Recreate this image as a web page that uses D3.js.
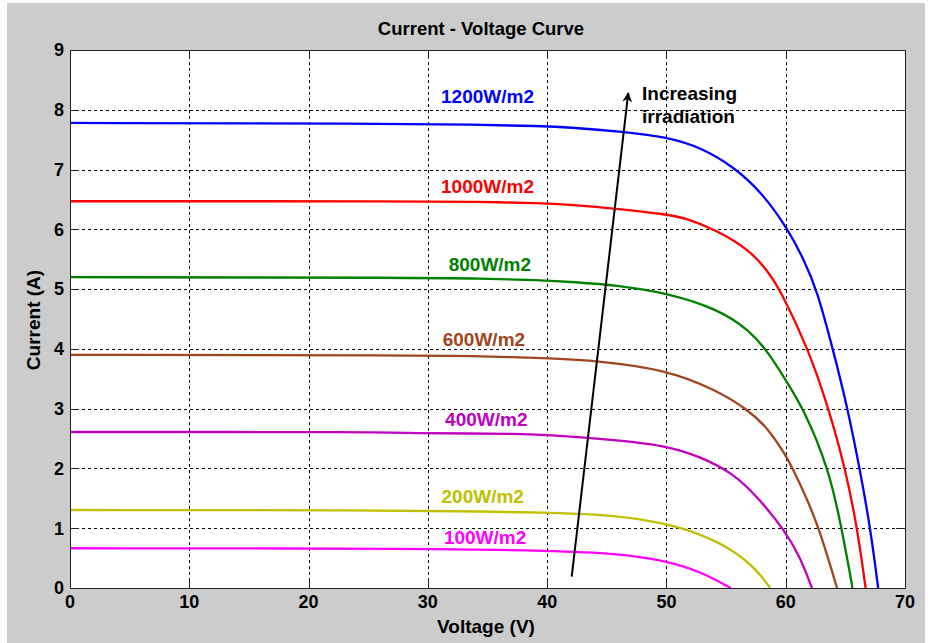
<!DOCTYPE html>
<html>
<head>
<meta charset="utf-8">
<script src="https://cdn.jsdelivr.net/npm/d3@7"></script>
<style>
  html, body { margin: 0; padding: 0; background: #fff; }
  text { font-family: Arial, "Liberation Sans", sans-serif; font-weight: bold; }
</style>
</head>
<body>
<svg id="chart" width="928" height="643"></svg>
<script>
'use strict';

// I-V curves: [voltage (V), current (A)]
var curve1200 = [[0, 7.78], [26, 7.77], [34, 7.75], [39.4, 7.73], [42.2, 7.70], [46, 7.64], [50, 7.55], [53, 7.36],
    [55.6, 7.05], [58, 6.62], [60.2, 6.0], [61.5, 5.5], [62.6, 5.0], [63.95, 4.0], [65.2, 3.0], [66.2, 2.0],
    [67.1, 1.0], [67.75, 0]];
var curve1000 = [[0, 6.47], [30, 6.47], [34, 6.46], [39.4, 6.44], [42, 6.41], [46, 6.34], [50, 6.25], [51.4, 6.2],
    [54.2, 5.99], [57, 5.65], [58.5, 5.3], [59.5, 5.0], [61.9, 4.0], [63.6, 3.0], [65.0, 2.0],
    [66.0, 1.0], [66.7, 0]];
var curve800 = [[0, 5.20], [30, 5.19], [34, 5.18], [39.4, 5.15], [42.2, 5.12], [46, 5.06], [49.9, 4.94], [54.2, 4.68],
    [57, 4.31], [58.5, 3.95], [59.9, 3.51], [61.5, 3.0], [63.6, 2.0], [64.7, 1.0], [65.6, 0]];
var curve600 = [[0, 3.90], [30, 3.89], [34, 3.88], [40.8, 3.84], [44.1, 3.80], [49.9, 3.66], [54.2, 3.31],
    [56.7, 3.0], [58.5, 2.68], [59.9, 2.25], [60.6, 2.0], [61.75, 1.5], [62.8, 1.0], [64.3, 0]];
var curve400 = [[0, 2.61], [26, 2.61], [28.5, 2.59], [38, 2.58], [40.8, 2.55], [45, 2.49], [49.9, 2.39],
    [52.8, 2.20], [55.6, 1.92], [57.6, 1.53], [59.9, 0.97], [61.2, 0.52], [62.2, 0]];
var curve200 = [[0, 1.305], [26, 1.30], [35.2, 1.28], [40.2, 1.26], [45.8, 1.22], [49.9, 1.08], [52.8, 0.91],
    [55.6, 0.64], [57.6, 0.30], [58.7, 0]];
var curve100 = [[0, 0.665], [31, 0.66], [40.2, 0.62], [45.8, 0.58], [49.9, 0.46], [52.8, 0.28], [55.4, 0]];

var seriesCurves = [curve1200, curve1000, curve800, curve600, curve400, curve200, curve100];
var seriesLabels = ['1200W/m2', '1000W/m2', '800W/m2', '600W/m2', '400W/m2', '200W/m2', '100W/m2'];
// label anchor (centre voltage, baseline current)
var labelV = [35.0, 35.0, 35.2, 34.7, 34.9, 34.6, 34.8];
var labelI = [8.11, 6.61, 5.30, 4.05, 2.71, 1.42, 0.74];

var xTicks = [0, 10, 20, 30, 40, 50, 60, 70];
var yTicks = [0, 1, 2, 3, 4, 5, 6, 7, 8, 9];

// arrow "Increasing irradiation": from / to in data units
var arrowFrom = [42.06, 0.19];
var arrowTo = [46.8, 8.28];
var arrowText = ['Increasing', 'irradiation'];

var colors = ['#0000ff', '#ff0000', '#008000', '#a0461e', '#c000c0', '#c0c000', '#ff00ff'];

var svg = d3.select('#chart');
var margin = {left: 70, top: 50, right: 905, bottom: 588};

// grey figure background
svg.append('rect')
    .attr('x', 7).attr('y', 3)
    .attr('width', 918).attr('height', 640)
    .attr('fill', '#cccccc');

var x = d3.scaleLinear().domain([0, 70]).range([margin.left, margin.right]);
var y = d3.scaleLinear().domain([0, 9]).range([margin.bottom, margin.top]);

// plot area
svg.append('rect')
    .attr('x', margin.left).attr('y', margin.top)
    .attr('width', margin.right - margin.left)
    .attr('height', margin.bottom - margin.top)
    .attr('fill', '#ffffff');

// dashed grid
var grid = svg.append('g').attr('stroke', '#000').attr('stroke-width', 1)
    .attr('stroke-dasharray', '3,3').attr('shape-rendering', 'crispEdges');
grid.selectAll('line.gx').data(xTicks.slice(1, -1)).enter().append('line')
    .attr('x1', function(d) { return Math.round(x(d)) + 0.5; })
    .attr('x2', function(d) { return Math.round(x(d)) + 0.5; })
    .attr('y1', margin.top).attr('y2', margin.bottom);
grid.selectAll('line.gy').data(yTicks.slice(1, -1)).enter().append('line')
    .attr('y1', function(d) { return Math.round(y(d)) + 0.5; })
    .attr('y2', function(d) { return Math.round(y(d)) + 0.5; })
    .attr('x1', margin.left).attr('x2', margin.right);

// curves (B-spline to smooth the hand-read points)
var line = d3.line()
    .x(function(d) { return x(d[0]); })
    .y(function(d) { return y(d[1]); })
    .curve(d3.curveBasis);

svg.append('g').selectAll('path').data(seriesCurves).enter().append('path')
    .attr('d', line)
    .attr('fill', 'none')
    .attr('stroke', function(d, i) { return colors[i]; })
    .attr('stroke-width', 2.3);

// series labels
svg.append('g').selectAll('text').data(seriesLabels).enter().append('text')
    .attr('x', function(d, i) { return x(labelV[i]); })
    .attr('y', function(d, i) { return y(labelI[i]); })
    .attr('text-anchor', 'middle')
    .attr('font-size', 19)
    .attr('fill', function(d, i) { return colors[i]; })
    .text(function(d) { return d; });

// arrow
svg.append('defs').append('marker')
    .attr('id', 'arrowhead')
    .attr('viewBox', '0 0 10 10')
    .attr('refX', 9).attr('refY', 5)
    .attr('markerWidth', 5).attr('markerHeight', 5)
    .attr('markerUnits', 'strokeWidth')
    .attr('orient', 'auto')
    .append('path')
    .attr('d', 'M0,0 L10,5 L0,10 L3,5 Z')
    .attr('fill', '#000');

svg.append('line')
    .attr('x1', x(arrowFrom[0])).attr('y1', y(arrowFrom[1]))
    .attr('x2', x(arrowTo[0])).attr('y2', y(arrowTo[1]))
    .attr('stroke', '#000').attr('stroke-width', 2)
    .attr('marker-end', 'url(#arrowhead)');

svg.append('text')
    .attr('x', 642).attr('y', 100)
    .attr('font-size', 19)
    .attr('fill', '#000')
    .selectAll('tspan').data(arrowText).enter().append('tspan')
    .attr('x', 642)
    .attr('dy', function(d, i) { return i === 0 ? 0 : 23; })
    .text(function(d) { return d; });

// axes box with inward ticks
var box = svg.append('g').attr('stroke', '#222').attr('stroke-width', 1).attr('shape-rendering', 'crispEdges');
box.append('rect')
    .attr('x', margin.left + 0.5).attr('y', margin.top + 0.5)
    .attr('width', margin.right - margin.left)
    .attr('height', margin.bottom - margin.top)
    .attr('fill', 'none');
var tickLen = 9;
xTicks.forEach(function(t) {
    var px = Math.round(x(t)) + 0.5;
    box.append('line').attr('x1', px).attr('x2', px).attr('y1', margin.bottom).attr('y2', margin.bottom - tickLen);
    box.append('line').attr('x1', px).attr('x2', px).attr('y1', margin.top).attr('y2', margin.top + tickLen);
});
yTicks.forEach(function(t) {
    var py = Math.round(y(t)) + 0.5;
    box.append('line').attr('y1', py).attr('y2', py).attr('x1', margin.left).attr('x2', margin.left + tickLen);
    box.append('line').attr('y1', py).attr('y2', py).attr('x1', margin.right).attr('x2', margin.right - tickLen);
});

// tick labels
svg.append('g').selectAll('text').data(xTicks).enter().append('text')
    .attr('x', function(d) { return x(d); })
    .attr('y', 608)
    .attr('text-anchor', 'middle')
    .attr('font-size', 18)
    .text(function(d) { return d; });
svg.append('g').selectAll('text').data(yTicks).enter().append('text')
    .attr('x', 64)
    .attr('y', function(d) { return y(d); })
    .attr('dy', '0.35em')
    .attr('text-anchor', 'end')
    .attr('font-size', 18)
    .text(function(d) { return d; });

// titles
svg.append('text')
    .attr('x', 481).attr('y', 35)
    .attr('text-anchor', 'middle')
    .attr('font-size', 18.5)
    .text('Current - Voltage Curve');
svg.append('text')
    .attr('x', 486).attr('y', 633)
    .attr('text-anchor', 'middle')
    .attr('font-size', 19)
    .text('Voltage (V)');
svg.append('text')
    .attr('transform', 'translate(40,320) rotate(-90)')
    .attr('text-anchor', 'middle')
    .attr('font-size', 19)
    .text('Current (A)');
</script>
</body>
</html>
